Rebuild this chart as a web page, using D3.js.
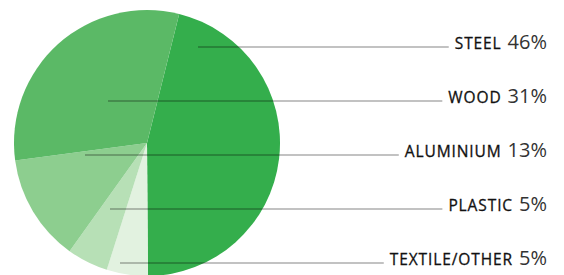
<!DOCTYPE html>
<html>
<head>
<meta charset="utf-8">
<script src="https://cdn.jsdelivr.net/npm/d3@7"></script>
<style>
  body { margin: 0; background: #fff; }
  svg { display: block; }
</style>
</head>
<body>
<div id="chart"></div>
<script>
// materials, clockwise from the steel slice
let materials = ['steel', 'textile/other', 'plastic', 'aluminium', 'wood'];
let shares = [46, 5, 5, 13, 31];
let colors = ['#34ae4c', '#e2f2e0', '#b7e0b6', '#8dce8f', '#5bb966'];
// labels top to bottom
let labelOrder = ['steel', 'wood', 'aluminium', 'plastic', 'textile/other'];
// how far left/right of the centre each leader line starts
let leaderStart = {'steel': 51, 'wood': -39, 'aluminium': -62, 'plastic': -37, 'textile/other': -27};

let width = 564,
	height = 275,
	cx = 147,
	cy = 143,
	radius = 133,
	textRight = 547;

let svg = d3.select('#chart').append('svg')
	.attr('width', width)
	.attr('height', height);

let pie = d3.pie()
	.sort(null)
	.value(d => d)
	.startAngle(14 * Math.PI / 180)
	.endAngle(14 * Math.PI / 180 + 2 * Math.PI);

let arc = d3.arc().innerRadius(0).outerRadius(radius);

let colorScale = d3.scaleOrdinal().domain(materials).range(colors);

svg.append('g')
	.attr('transform', 'translate(' + cx + ',' + cy + ')')
	.selectAll('path')
	.data(pie(shares))
	.enter().append('path')
		.attr('d', arc)
		.style('fill', (d, i) => colorScale(materials[i]));

let yScale = d3.scalePoint()
	.domain(labelOrder)
	.range([47, 263]);

let rows = svg.selectAll('g.row')
	.data(labelOrder)
	.enter().append('g')
		.attr('class', 'row');

let texts = rows.append('text')
	.attr('x', textRight)
	.attr('y', d => yScale(d) + 2)
	.attr('text-anchor', 'end')
	.style('font-family', '"Open Sans", sans-serif');

texts.append('tspan')
	.style('font-size', '15.5px')
	.style('fill', '#111')
	.style('stroke', '#111')
	.style('stroke-width', 0.3)
	.style('letter-spacing', '0.9px')
	.text(d => d.toUpperCase());

texts.append('tspan')
	.attr('dx', 6)
	.style('font-size', '20px')
	.style('fill', '#333')
	.text(d => shares[materials.indexOf(d)] + '%');

rows.each(function(d) {
	let box = d3.select(this).select('text').node().getBBox();
	d3.select(this).insert('line', 'text')
		.attr('x1', cx + leaderStart[d])
		.attr('x2', box.x - 6)
		.attr('y1', yScale(d))
		.attr('y2', yScale(d))
		.style('stroke', '#000')
		.style('stroke-opacity', 0.32)
		.style('stroke-width', 1.6);
});
</script>
</body>
</html>
